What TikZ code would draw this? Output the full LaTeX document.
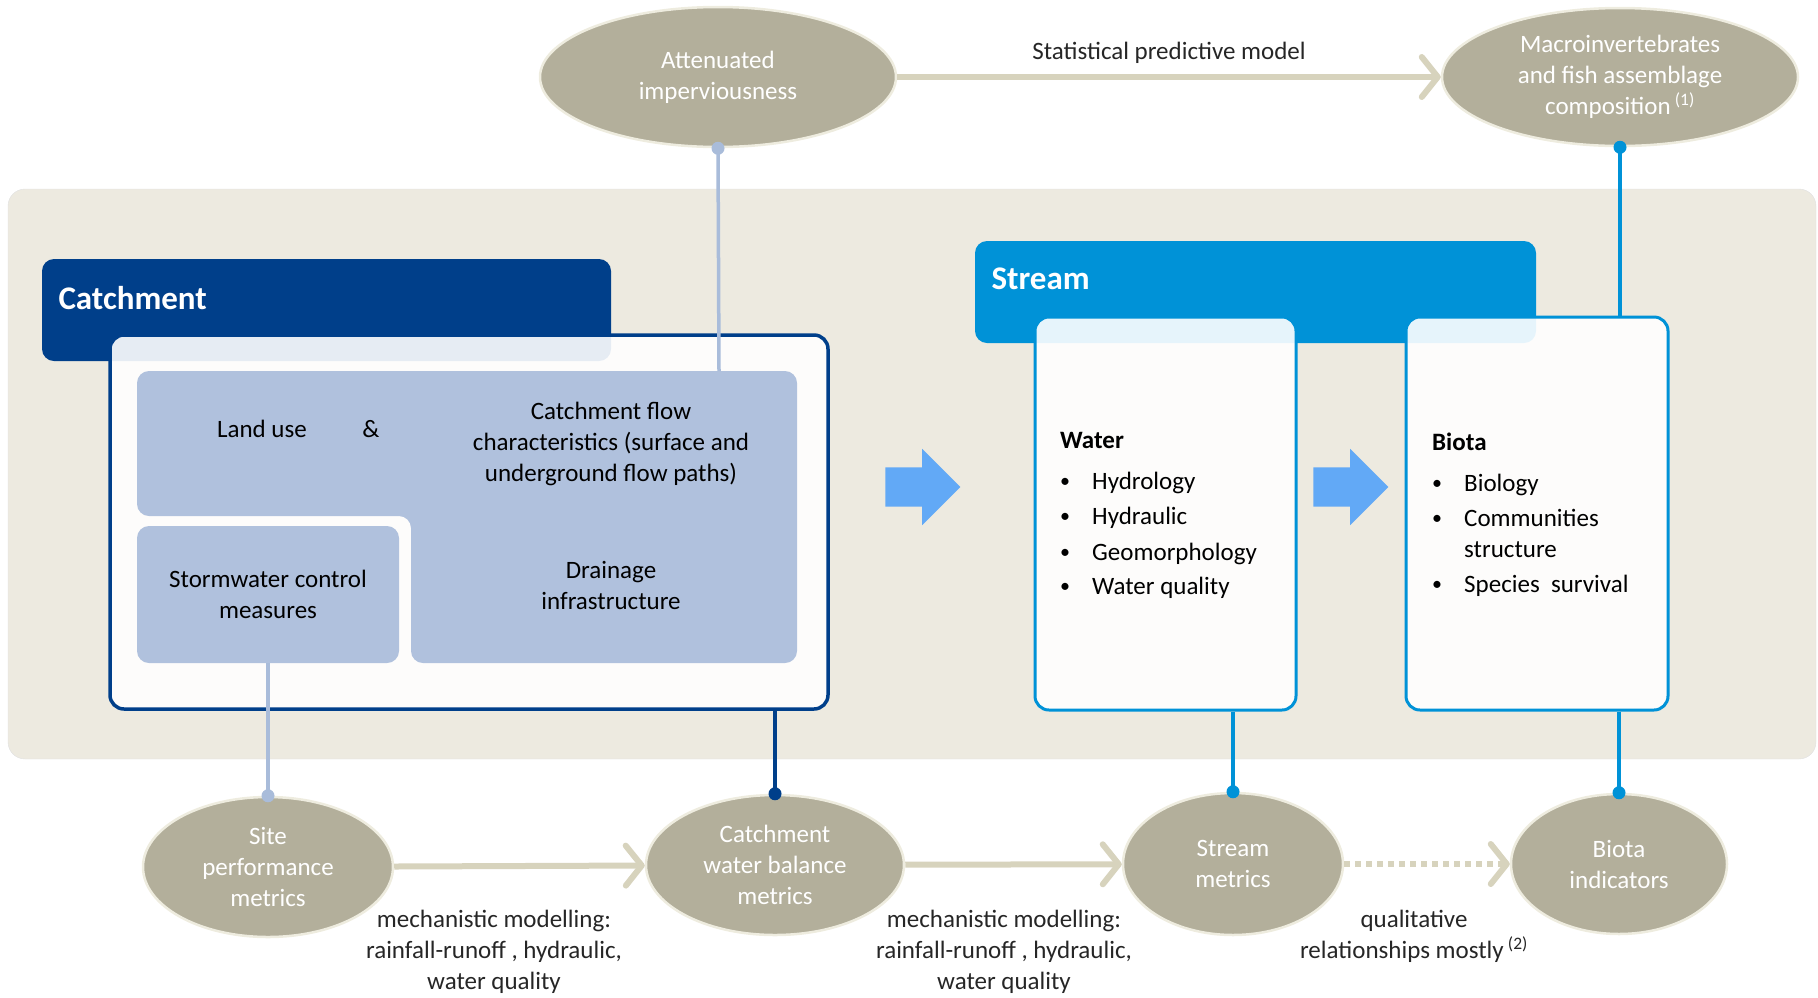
\documentclass[tikz,border=0pt]{standalone}
\usepackage{fontspec}
\setmainfont{Carlito}
\usepackage{xcolor}
\usepackage{tikz}
\usetikzlibrary{shapes, arrows.meta, positioning, calc}

\definecolor{bandbg}{HTML}{EDEAE0}
\definecolor{catchblue}{HTML}{003F8A}
\definecolor{streamblue}{HTML}{0092D7}
\definecolor{landblue}{HTML}{B0C1DD}
\definecolor{metricfill}{HTML}{B3AF9B}
\definecolor{metricedge}{HTML}{EEECDF}
\definecolor{linkbeige}{HTML}{D7D3BD}
\definecolor{arrowblue}{HTML}{62A9F6}
\definecolor{pinblue}{HTML}{A9BCDA}

\begin{document}
\begin{tikzpicture}[x=1pt, y=-1pt, font=\fontsize{25}{31}\selectfont]
    \tikzstyle{metric}=[ellipse, fill=metricfill, draw=metricedge, line width=2.5pt, align=center, text=white, inner sep=0pt]
    \tikzstyle{header}=[rectangle, rounded corners=12pt, inner sep=0pt]
    \tikzstyle{panel}=[rectangle, rounded corners=14pt, fill=white, fill opacity=0.9, line width=3.5pt, inner sep=0pt]
    \tikzstyle{block}=[rectangle, rounded corners=12pt, fill=landblue, inner sep=0pt, align=center]
    \tikzstyle{link}=[draw=linkbeige, line width=6pt, -{Straight Barb[length=16pt, width=40pt, line cap=round, line join=round]}]
    \tikzstyle{tieline}=[line width=3.5pt]
    \tikzstyle{flow}=[single arrow, fill=arrowblue, minimum height=75pt, inner xsep=0pt, inner ysep=19.5pt, single arrow head extend=18.5pt]
    \tikzstyle{headtext}=[text=white, font=\fontsize{33}{40}\selectfont\bfseries, anchor=west]
    \tikzstyle{entry}=[anchor=base west, inner sep=0pt]
    \tikzstyle{dotmark}=[anchor=base west, inner sep=0pt, font=\fontsize{20}{31}\selectfont]
    \tikzstyle{lbl}=[align=center, text=black!85]
    \useasboundingbox (0,0) rectangle (1818,997);

    % shaded band behind catchment and stream
    \node[rectangle, fill=bandbg, draw=black!12, rounded corners=17pt, minimum width=1808pt, minimum height=570pt] (band) at (912,474) {};

    % catchment
    \node[header, fill=catchblue, minimum width=569pt, minimum height=102pt] (catchhead) at (326.5,310) {};
    \node[headtext] (catchtitle) at (55,298) {Catchment};
    \node[panel, draw=catchblue, minimum width=718pt, minimum height=374pt] (catchbox) at (469,522) {};
    \fill[landblue, rounded corners=12pt] (137,371) -- (797,371) -- (797,663) -- (411,663) -- (411,516) -- (137,516) -- cycle;
    \coordinate (landtop) at (719,371);
    \node[block, minimum width=262pt, minimum height=137pt] (storm) at (268,594.5) {Stormwater control\\measures};
    \node (landuse) at (262,429) {Land use};
    \node (amp) at (371,429) {\&};
    \node[align=center] (flowchar) at (611,444) {Catchment flow\\characteristics (surface and\\underground flow paths)};
    \node[align=center] (drain) at (611,585) {Drainage\\infrastructure};

    % stream
    \node[header, fill=streamblue, minimum width=561pt, minimum height=102pt] (streamhead) at (1255.5,292) {};
    \node[headtext] (streamtitle) at (988,279) {Stream};
    \node[panel, draw=streamblue, line width=3pt, minimum width=261pt, minimum height=393pt] (waterbox) at (1165.5,513.5) {};
    \node[panel, draw=streamblue, line width=3pt, minimum width=262pt, minimum height=393pt] (biotabox) at (1537,513.5) {};

    \node[entry, font=\fontsize{25}{31}\selectfont\bfseries] (watertitle) at (1060,448) {Water};
    \node[dotmark] (wb1) at (1060,487) {\textbullet};
    \node[entry] (wi1) at (1092,489) {Hydrology};
    \node[dotmark] (wb2) at (1060,522) {\textbullet};
    \node[entry] (wi2) at (1092,524) {Hydraulic};
    \node[dotmark] (wb3) at (1060,558) {\textbullet};
    \node[entry] (wi3) at (1092,560) {Geomorphology};
    \node[dotmark] (wb4) at (1060,592) {\textbullet};
    \node[entry] (wi4) at (1092,594) {Water quality};

    \node[entry, font=\fontsize{25}{31}\selectfont\bfseries] (biotatitle) at (1432,450) {Biota};
    \node[dotmark] (bb1) at (1432,489) {\textbullet};
    \node[entry] (bi1) at (1464,491) {Biology};
    \node[dotmark] (bb2) at (1432,524) {\textbullet};
    \node[entry] (bi2) at (1464,526) {Communities};
    \node[entry] (bi2b) at (1464,557) {structure};
    \node[dotmark] (bb3) at (1432,590) {\textbullet};
    \node[entry] (bi3) at (1464,592) {Species\ \ survival};

    \node[flow] (flowa) at (913,487) {};
    \node[flow] (flowb) at (1341,487) {};

    % metrics
    \node[metric, minimum width=356pt, minimum height=140pt] (attimp) at (718,77) {Attenuated\\imperviousness};
    \node[metric, minimum width=356pt, minimum height=138pt] (macro) at (1620,77) {Macroinvertebrates\\and fish assemblage\\composition\,\textsuperscript{(1)}};
    \node[metric, minimum width=250pt, minimum height=140pt] (site) at (268,867) {Site\\performance\\metrics};
    \node[metric, minimum width=258pt, minimum height=140pt] (cwb) at (775,865) {Catchment\\water balance\\metrics};
    \node[metric, minimum width=220pt, minimum height=142pt] (strm) at (1233,864) {Stream\\metrics};
    \node[metric, minimum width=216pt, minimum height=140pt] (biota) at (1619,864) {Biota\\indicators};

    \draw[link] (attimp) -- (macro) node[midway, above=7pt, text=black!85] {Statistical predictive model};
    \draw[link] (site) -- (cwb);
    \draw[link] (cwb) -- (strm);
    \draw[link, dash pattern=on 6pt off 5pt] (strm) -- (biota);

    \node[lbl] (mecha) at (494,952) {mechanistic modelling:\\rainfall-runoff , hydraulic,\\water quality};
    \node[lbl] (mechb) at (1004,952) {mechanistic modelling:\\rainfall-runoff , hydraulic,\\water quality};
    \node[lbl] (qual) at (1414,936) {qualitative\\relationships mostly\,\textsuperscript{(2)}};

    % ties between boxes and metrics
    \draw[tieline, draw=pinblue] (attimp.south) -- (landtop);
    \fill[pinblue] (attimp.south) circle (6.5pt);
    \draw[tieline, draw=streamblue] (macro.south) -- (macro.south |- biotabox.north);
    \fill[streamblue] (macro.south) circle (6.5pt);
    \draw[tieline, draw=pinblue] (storm.south) -- (site.north);
    \fill[pinblue] (site.north) circle (6.5pt);
    \draw[tieline, draw=catchblue] (cwb.north |- catchbox.south) -- (cwb.north);
    \fill[catchblue] (cwb.north) circle (6.5pt);
    \draw[tieline, draw=streamblue] (strm.north |- waterbox.south) -- (strm.north);
    \fill[streamblue] (strm.north) circle (6.5pt);
    \draw[tieline, draw=streamblue] (biota.north |- biotabox.south) -- (biota.north);
    \fill[streamblue] (biota.north) circle (6.5pt);
  \end{tikzpicture}
\end{document}
